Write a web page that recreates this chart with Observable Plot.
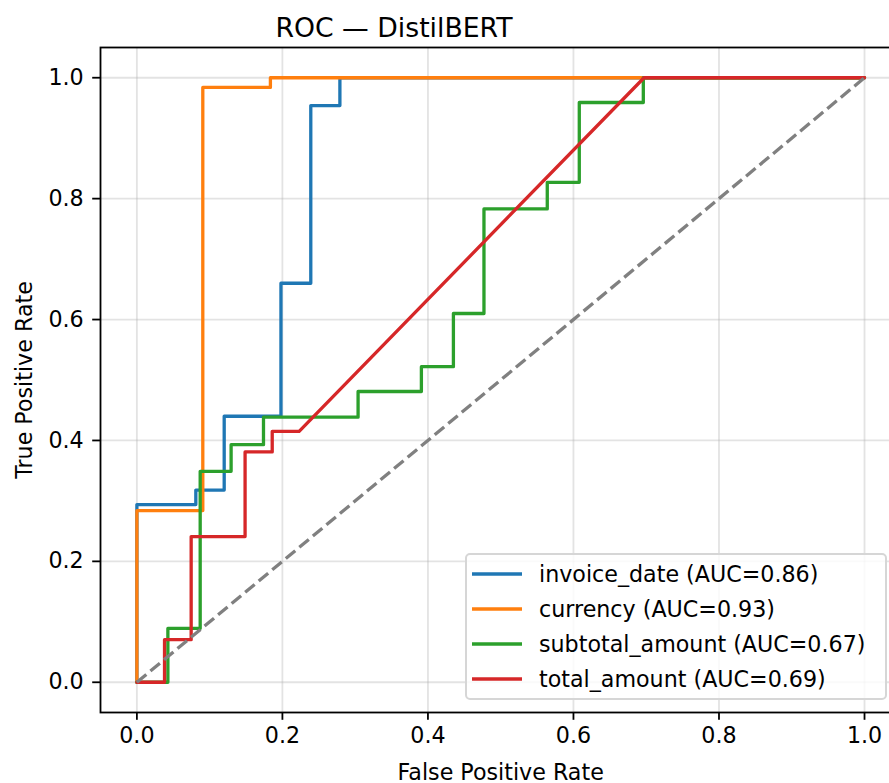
<!DOCTYPE html>
<html>
<head>
<meta charset="utf-8">
<script src="https://cdn.jsdelivr.net/npm/d3@7"></script>
<script src="https://cdn.jsdelivr.net/npm/@observablehq/plot@0.6"></script>
<style>
  html, body { margin: 0; padding: 0; background: white; overflow: hidden; }
  #wrap { position: relative; width: 889px; height: 783px; overflow: hidden; font-family: "DejaVu Sans", sans-serif; }
  #title { position: absolute; left: 0; top: 15px; width: 788px; text-align: center; font-size: 26.7px; line-height: 26.7px; color: #000; }
  #legend { position: absolute; left: 465px; top: 553px; width: 422px; height: 147px; box-sizing: border-box;
            border: 2px solid #d6d6d6; border-radius: 5px; background: rgba(255,255,255,0.8); }
  .row { position: absolute; left: 0; height: 35px; display: flex; align-items: center; font-size: 22.2px; color: #000; white-space: nowrap; }
  .row svg { margin-left: 5px; margin-right: 17px; }
</style>
</head>
<body>
<div id="wrap">
  <div id="chart"></div>
  <div id="title">ROC — DistilBERT</div>
  <div id="legend"></div>
</div>
<script>
// ---- data ----
const seriesNames = ["invoice_date", "currency", "subtotal_amount", "total_amount"];
const seriesAuc = [0.86, 0.93, 0.67, 0.69];
const seriesColors = ["#1f77b4", "#ff7f0e", "#2ca02c", "#d62728"];

const invoiceDateFpr = [0, 0, 0.081, 0.081, 0.120, 0.120, 0.198, 0.198, 0.239, 0.239, 0.279, 0.279, 1.0];
const invoiceDateTpr = [0, 0.294, 0.294, 0.318, 0.318, 0.440, 0.440, 0.660, 0.660, 0.954, 0.954, 1.0, 1.0];

const currencyFpr = [0, 0, 0.0906, 0.0906, 0.1835, 0.1835, 1.0];
const currencyTpr = [0, 0.284, 0.284, 0.984, 0.984, 1.0, 1.0];

const subtotalFpr = [0, 0.0426, 0.0426, 0.087, 0.087, 0.1295, 0.1295, 0.174, 0.174, 0.304, 0.304, 0.391, 0.391, 0.435, 0.435, 0.477, 0.477, 0.564, 0.564, 0.608, 0.608, 0.696, 0.696, 1.0];
const subtotalTpr = [0, 0, 0.089, 0.089, 0.349, 0.349, 0.393, 0.393, 0.4385, 0.4385, 0.481, 0.481, 0.522, 0.522, 0.610, 0.610, 0.783, 0.783, 0.827, 0.827, 0.959, 0.959, 1.0, 1.0];

const totalFpr = [0, 0.038, 0.038, 0.0746, 0.0746, 0.1487, 0.1487, 0.186, 0.186, 0.223, 0.697, 1.0];
const totalTpr = [0, 0, 0.0705, 0.0705, 0.241, 0.241, 0.381, 0.381, 0.415, 0.415, 1.0, 1.0];

const diagFpr = [0, 1];
const diagTpr = [0, 1];

const tickValues = [0, 0.2, 0.4, 0.6, 0.8, 1.0];

// ---- build tables ----
const curves = [
  [invoiceDateFpr, invoiceDateTpr],
  [currencyFpr, currencyTpr],
  [subtotalFpr, subtotalTpr],
  [totalFpr, totalTpr]
].map(([f, t], i) => f.map((fpr, j) => ({series: seriesNames[i], fpr, tpr: t[j]})));
const diag = diagFpr.map((fpr, j) => ({fpr, tpr: diagTpr[j]}));

const fmt = d3.format(".1f");

const chart = Plot.plot({
  width: 901,
  height: 783,
  marginLeft: 100,
  marginRight: 0.6,
  marginTop: 47,
  marginBottom: 71,
  style: {fontFamily: "DejaVu Sans", fontSize: "22.2px", background: "white", color: "black", maxWidth: "none"},
  x: {domain: [-0.05, 1.05]},
  y: {domain: [-0.05, 1.05]},
  color: {domain: seriesNames, range: seriesColors},
  marks: [
    Plot.gridX(tickValues, {stroke: "#b0b0b0", strokeOpacity: 0.35, strokeWidth: 1.8}),
    Plot.gridY(tickValues, {stroke: "#b0b0b0", strokeOpacity: 0.35, strokeWidth: 1.8}),
    ...curves.map(c => Plot.line(c, {x: "fpr", y: "tpr", stroke: "series", strokeWidth: 3.3, curve: "linear"})),
    Plot.line(diag, {x: "fpr", y: "tpr", stroke: "#808080", strokeWidth: 3.3, strokeDasharray: "12.3,5.3", strokeLinecap: "butt"}),
    Plot.frame({stroke: "black", strokeWidth: 1.8}),
    Plot.axisX(tickValues, {tickFormat: fmt, tickSize: 7.8, tickPadding: 7, strokeWidth: 1.8,
      label: "False Positive Rate", labelAnchor: "center", labelArrow: "none", labelOffset: 67}),
    Plot.axisY(tickValues, {tickFormat: fmt, tickSize: 7.8, tickPadding: 9, strokeWidth: 1.8,
      label: "True Positive Rate", labelAnchor: "center", labelArrow: "none", labelOffset: 84})
  ]
});
chart.style.maxWidth = "none";
chart.style.display = "block";
document.getElementById("chart").appendChild(chart);

// ---- legend ----
const legend = document.getElementById("legend");
seriesNames.forEach((name, i) => {
  const row = document.createElement("div");
  row.className = "row";
  row.style.top = (1 + i * 35) + "px";
  row.innerHTML = `<svg width="50" height="6"><line x1="0" x2="50" y1="3" y2="3" stroke="${seriesColors[i]}" stroke-width="3.3"/></svg><span>${name} (AUC=${seriesAuc[i].toFixed(2)})</span>`;
  legend.appendChild(row);
});
</script>
</body>
</html>
